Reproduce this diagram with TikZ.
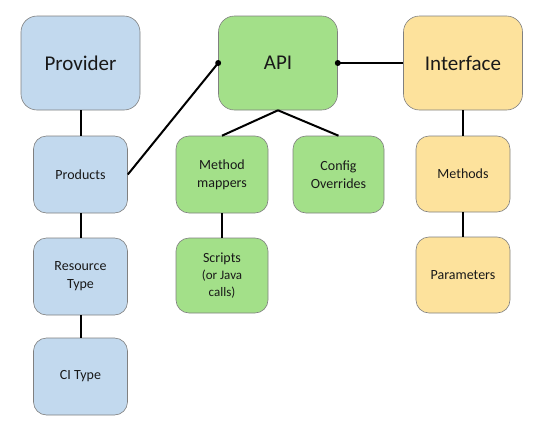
\documentclass[tikz,border=0pt]{standalone}
\usepackage{fontspec}
\setmainfont{Carlito}
\usetikzlibrary{arrows.meta}
\definecolor{bfill}{HTML}{C2D9EE}
\definecolor{gfill}{HTML}{A3E089}
\definecolor{ofill}{HTML}{FDE29C}
\definecolor{edgec}{HTML}{808080}
\begin{document}
\begin{tikzpicture}[x=1pt,y=-1pt,
  box/.style={draw=edgec,line width=0.6pt,rounded corners=13pt,align=center,inner sep=1pt,text=black!90},
  big/.style={box,minimum width=119pt,minimum height=94pt,font=\fontsize{21}{24}\selectfont,rounded corners=16pt},
  small/.style={box,minimum width=94pt,minimum height=77pt,font=\fontsize{14}{18}\selectfont},
  conn/.style={line width=2pt},
]
\useasboundingbox (0,0) rectangle (539,434);
\node[big,fill=bfill] (provider) at (80.5,63) {Provider};
\node[big,fill=gfill] (api) at (278,63) {API};
\node[big,fill=ofill] (interface) at (463,63) {Interface};
\node[small,fill=bfill] (products) at (80.5,174.5) {Products};
\node[small,fill=bfill] (resource) at (80.5,276.5) {Resource\\Type};
\node[small,fill=bfill] (citype) at (80.5,376.5) {CI Type};
\node[small,fill=gfill,minimum width=92pt] (mappers) at (222,174.5) {Method\\mappers};
\node[small,fill=gfill,minimum width=92pt,minimum height=75pt,font=\fontsize{13}{17}\selectfont] (scripts) at (222,275.5) {\fontsize{14}{17}\selectfont Scripts\\(or Java\\calls)};
\node[small,fill=gfill,minimum width=91pt] (config) at (338.5,174.5) {Config\\Overrides};
\node[small,fill=ofill,minimum height=76pt] (methods) at (463,174) {Methods};
\node[small,fill=ofill,minimum height=76pt] (params) at (463,275) {Parameters};
\draw[conn] (provider) -- (products);
\draw[conn] (products) -- (resource);
\draw[conn] (resource) -- (citype);
\draw[conn] (mappers) -- (scripts);
\draw[conn] (interface) -- (methods);
\draw[conn] (methods) -- (params);
\draw[conn] (products.east) -- (api.west);
\fill (api.west) circle (3pt);
\draw[conn] (interface.west) -- (api.east);
\fill (api.east) circle (3pt);
\draw[conn] (api.south) -- (mappers.north);
\draw[conn] (api.south) -- (config.north);
\end{tikzpicture}
\end{document}
